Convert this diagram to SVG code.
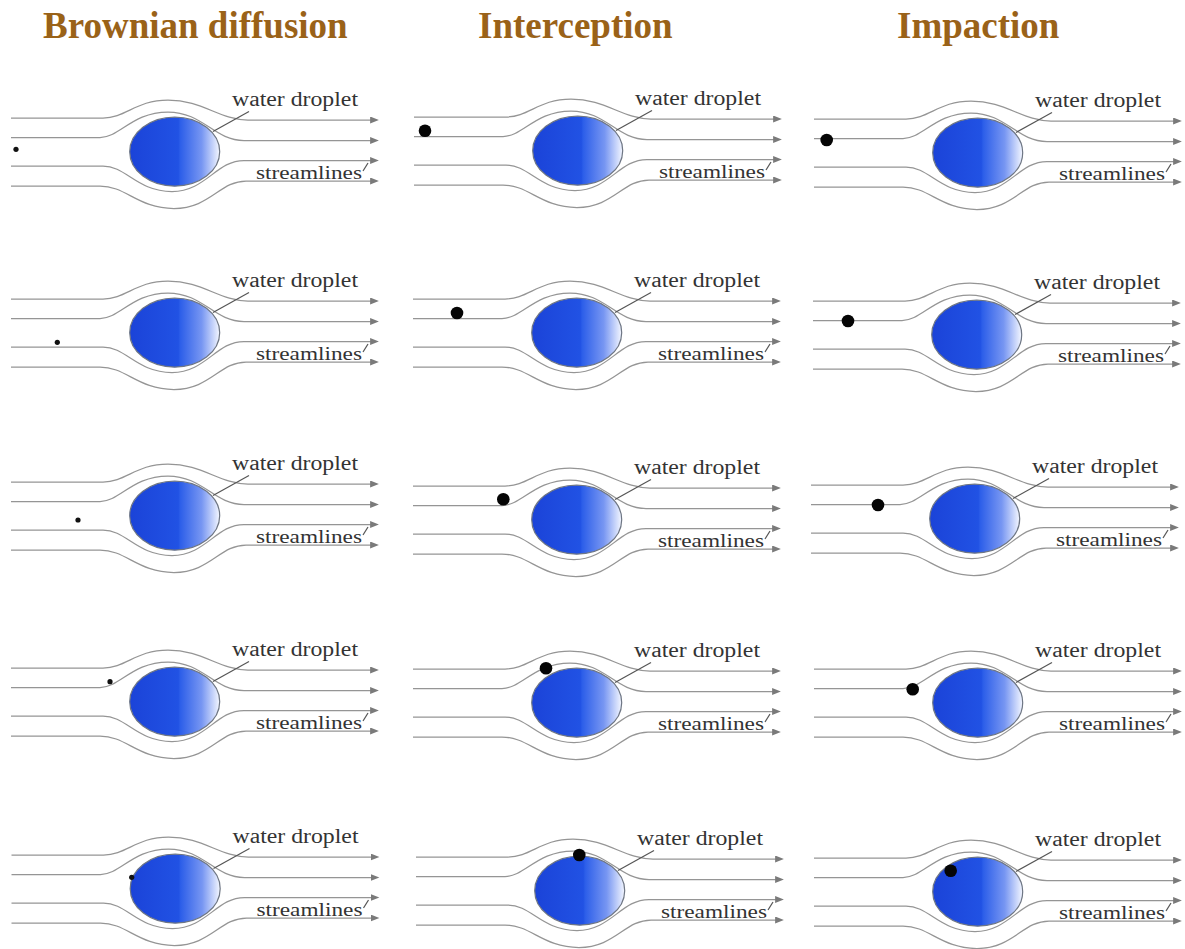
<svg xmlns="http://www.w3.org/2000/svg" width="1185" height="949" viewBox="0 0 1185 949">
  <style>
    .title { font-family: "Liberation Serif", "Times New Roman", serif; font-weight: bold; font-size: 37px; fill: #9a6218; }
    .label { font-family: "Liberation Serif", "Times New Roman", serif; fill: #333333; }
    .stream { fill: none; stroke: #959595; stroke-width: 1.25; }
    .leader { fill: none; stroke: #555555; stroke-width: 1.2; }
    .small { fill: #111; }
    .big { fill: #050505; }
  </style>
  <defs>
    <marker id="arrow" viewBox="0 0 10 8" refX="1" refY="4" markerWidth="9" markerHeight="7" markerUnits="userSpaceOnUse" orient="auto">
      <path d="M0,0 L10,4 L0,8 z" fill="#7a7a7a"/>
    </marker>
    <linearGradient id="dropFill" x1="0" y1="0" x2="1" y2="0">
      <stop offset="0" stop-color="#1b43d8"/>
      <stop offset="0.54" stop-color="#2152e4"/>
      <stop offset="0.56" stop-color="#2c5ee9"/>
      <stop offset="0.8" stop-color="#7796f2"/>
      <stop offset="1" stop-color="#f4f7ff"/>
    </linearGradient>
    <!-- one flow cell: droplet, four streamlines, labels -->
    <g id="panel">
      <g class="streamlines">
        <path class="stream" marker-end="url(#arrow)" d="M11,118 L103,118 C126,118 136,100 168,100 C202,100 220,120 248,120 L371,120"/>
        <path class="stream" marker-end="url(#arrow)" d="M11,137.5 L100,137.5 C120,137.5 132,112 168,112 C203,112 214,140.5 244,140.5 L371,140.5"/>
        <path class="stream" marker-end="url(#arrow)" d="M11,166 L103,166 C126,166 137,191.5 172,191.5 C206,191.5 216,160.5 244,160.5 L371,160.5"/>
        <path class="stream" marker-end="url(#arrow)" d="M11,186 L100,186 C126,186 138,208.5 174,208.5 C210,208.5 220,181 246,181 L371,181"/>
      </g>
      <ellipse cx="174.7" cy="151.7" rx="45" ry="34.5" fill="url(#dropFill)" stroke="#6e7684" stroke-width="1.2"/>
      <path class="leader" d="M213,131.5 L249,111.5"/>
      <path class="leader" d="M363,171 L368,163"/>
      <text class="label" x="232" y="106" font-size="20.5" textLength="126" lengthAdjust="spacingAndGlyphs">water droplet</text>
      <text class="label" x="256" y="179" font-size="19" textLength="106" lengthAdjust="spacingAndGlyphs">streamlines</text>
    </g>
  </defs>

  <rect width="1185" height="949" fill="#ffffff"/>

  <g id="titles">
    <text class="title" x="43" y="38">Brownian diffusion</text>
    <text class="title" x="478" y="38">Interception</text>
    <text class="title" x="897" y="38">Impaction</text>
  </g>

  <!-- Brownian diffusion column -->
  <g id="brownian-1"><use href="#panel" transform="translate(0,0)"/><circle class="small" cx="16" cy="149.3" r="2.6"/></g>
  <g id="brownian-2"><use href="#panel" transform="translate(0,181)"/><circle class="small" cx="57.3" cy="342.3" r="2.6"/></g>
  <g id="brownian-3"><use href="#panel" transform="translate(0,364)"/><circle class="small" cx="78" cy="520" r="2.6"/></g>
  <g id="brownian-4"><use href="#panel" transform="translate(0,550)"/><circle class="small" cx="110" cy="681.7" r="2.6"/></g>
  <g id="brownian-5"><use href="#panel" transform="translate(0.5,737)"/><circle class="small" cx="131.7" cy="877.3" r="2.6"/></g>

  <!-- Interception column -->
  <g id="interception-1"><use href="#panel" transform="translate(403,-1)"/><circle class="big" cx="425" cy="130.7" r="6.3"/></g>
  <g id="interception-2"><use href="#panel" transform="translate(402,181)"/><circle class="big" cx="457" cy="313" r="6.3"/></g>
  <g id="interception-3"><use href="#panel" transform="translate(402,368)"/><circle class="big" cx="503.3" cy="499.3" r="6.3"/></g>
  <g id="interception-4"><use href="#panel" transform="translate(402,551)"/><circle class="big" cx="546" cy="668.3" r="6.3"/></g>
  <g id="interception-5"><use href="#panel" transform="translate(405,739)"/><circle class="big" cx="579.3" cy="855" r="6.3"/></g>

  <!-- Impaction column -->
  <g id="impaction-1"><use href="#panel" transform="translate(803,1)"/><circle class="big" cx="826.7" cy="140" r="6.3"/></g>
  <g id="impaction-2"><use href="#panel" transform="translate(802,183)"/><circle class="big" cx="848" cy="321" r="6.3"/></g>
  <g id="impaction-3"><use href="#panel" transform="translate(800,367)"/><circle class="big" cx="878" cy="505" r="6.3"/></g>
  <g id="impaction-4"><use href="#panel" transform="translate(803,551)"/><circle class="big" cx="912.7" cy="689.3" r="6.3"/></g>
  <g id="impaction-5"><use href="#panel" transform="translate(803,740)"/><circle class="big" cx="950.7" cy="870.7" r="6.3"/></g>
</svg>
